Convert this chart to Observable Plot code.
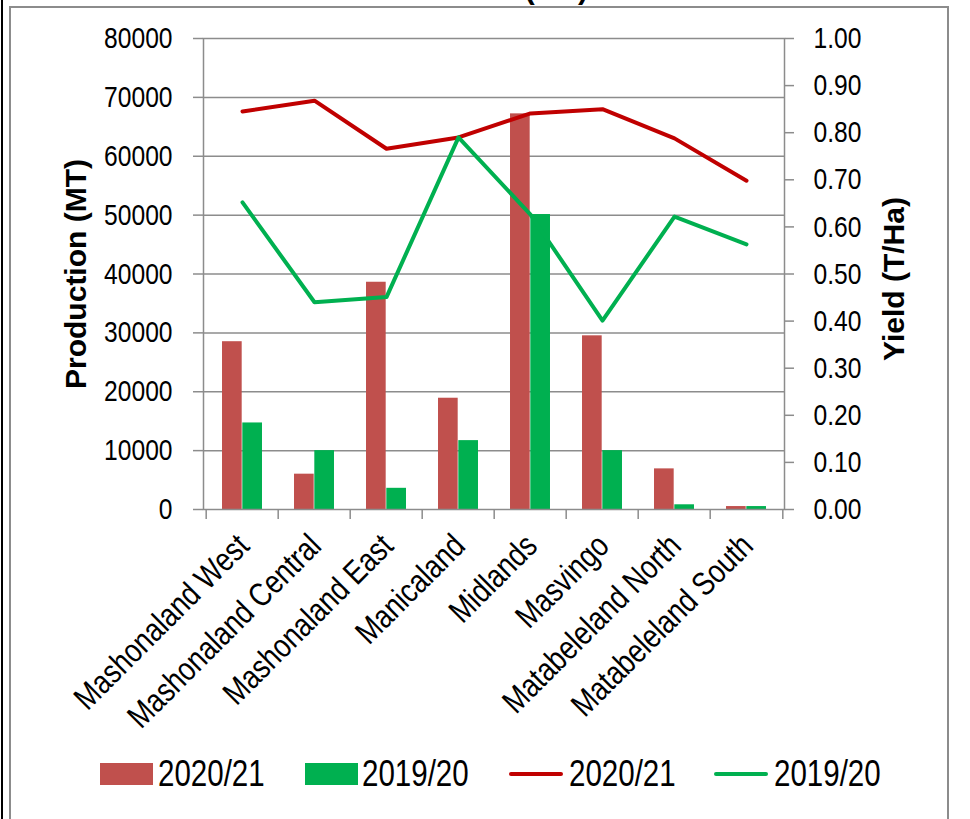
<!DOCTYPE html>
<html><head><meta charset="utf-8">
<script src="https://cdn.jsdelivr.net/npm/d3@7"></script>
<script src="https://cdn.jsdelivr.net/npm/@observablehq/plot@0.6"></script>
<style>
html,body{margin:0;padding:0;background:#fff;width:970px;height:819px;overflow:hidden;}
body{position:relative;}
#edge{position:absolute;left:1px;top:0;width:2px;height:819px;background:#000;}
#frame{position:absolute;left:9px;top:6px;width:936px;height:900px;border:2px solid #8c8c8c;pointer-events:none;z-index:3;}
#title{position:absolute;top:-26px;right:382px;font:bold 30px "Liberation Sans",Arial,sans-serif;line-height:30px;white-space:nowrap;color:#000;}
#chart{position:absolute;left:0;top:0;}
#legend{position:absolute;left:0;top:752px;width:970px;height:44px;font-family:"Liberation Sans",Arial,sans-serif;font-size:36px;color:#000;}
.key{position:absolute;}
.sw{top:11px;width:53px;height:22px;}
.ln{top:20px;width:54px;height:4px;border-radius:2px;}
.lab{position:absolute;top:0;line-height:44px;white-space:nowrap;transform:scaleX(0.82);transform-origin:0 50%;}
</style>
</head><body>
<div id="edge"></div>
<div id="title">Production (MT)</div>
<div id="chart"></div>
<div id="legend"></div>
<div id="frame"></div>
<script>
const regions = ["Mashonaland West","Mashonaland Central","Mashonaland East","Manicaland","Midlands","Masvingo","Matabeleland North","Matabeleland South"];
const seasons = ["2020/21","2019/20"];
const prod2021 = [28500, 6000, 38600, 18900, 67200, 29500, 6900, 500];
const prod1920 = [14700, 10000, 3600, 11700, 50100, 10000, 800, 500];
const yield2021 = [0.845, 0.868, 0.766, 0.790, 0.841, 0.850, 0.788, 0.698];
const yield1920 = [0.652, 0.440, 0.451, 0.790, 0.626, 0.401, 0.622, 0.563];
const prodTicks = [0,10000,20000,30000,40000,50000,60000,70000,80000];
const yieldTicks = [0,0.1,0.2,0.3,0.4,0.5,0.6,0.7,0.8,0.9,1.0];
const yTitle = "Production (MT)", y2Title = "Yield (T/Ha)";

const barColors = ["#C0504D","#00B050"];
const lineColors = ["#C00000","#00B050"];
const FONT = '"Liberation Sans",Arial,sans-serif';
const NARROW_K = 0.82;

const W=970, H=740, mL=203, mR=186, mT=38, mB=231;
const YMAX = prodTicks[prodTicks.length-1];
const bw = (W-mL-mR)/regions.length;
const barW = 20.3, outer = bw/2 - barW;
const rows = regions.map((r,i)=>({region:r, p21:prod2021[i], p20:prod1920[i], y21:yield2021[i]*YMAX, y20:yield1920[i]*YMAX}));
const grid = "#8c8c8c";

const chart = Plot.plot({
  width:W, height:H, marginLeft:mL, marginRight:mR, marginTop:mT, marginBottom:mB,
  style:{background:"transparent", overflow:"visible", fontFamily:FONT},
  x:{type:"band", domain:regions, padding:0, axis:null},
  y:{domain:[0,YMAX], axis:null},
  marks:[
    Plot.ruleY(prodTicks.slice(1,-1), {stroke:grid, strokeWidth:1.5}),
    Plot.barY(rows, {x:"region", y:"p21", fill:barColors[0], insetLeft:outer, insetRight:bw/2}),
    Plot.barY(rows, {x:"region", y:"p20", fill:barColors[1], insetLeft:bw/2, insetRight:outer}),
    Plot.frame({stroke:grid, strokeWidth:1.5}),
    Plot.axisY({ticks:prodTicks, tickSize:10, tickPadding:21, tickFormat:d=>String(d), stroke:grid, strokeWidth:1.5, fill:"#000", fontSize:30, fontFamily:FONT}),
    Plot.axisY({anchor:"right", ticks:yieldTicks.map(v=>v*YMAX), tickSize:9, tickPadding:20, tickFormat:d=>(d/YMAX).toFixed(2), stroke:grid, strokeWidth:1.5, fill:"#000", fontSize:30, fontFamily:FONT}),
    Plot.ruleX(regions, {x:d=>d, y1:0, y2:0, insetBottom:-10, dx:-bw/2, stroke:grid, strokeWidth:1.5}),
    Plot.ruleX(regions.slice(-1), {x:d=>d, y1:0, y2:0, insetBottom:-10, dx:bw/2, stroke:grid, strokeWidth:1.5}),
    Plot.text(regions, {x:d=>d, frameAnchor:"bottom", text:d=>d, rotate:-45, textAnchor:"end", lineAnchor:"middle", dx:1, dy:31, fontSize:33, fontFamily:FONT, fill:"#000"}),
    Plot.lineY(rows, {x:"region", y:"y21", stroke:lineColors[0], strokeWidth:4}),
    Plot.lineY(rows, {x:"region", y:"y20", stroke:lineColors[1], strokeWidth:4}),
    Plot.text([yTitle], {frameAnchor:"left", textAnchor:"middle", dx:-127, rotate:-90, fontSize:30, fontWeight:"bold", fontFamily:FONT, fill:"#000"}),
    Plot.text([y2Title], {frameAnchor:"right", textAnchor:"middle", dx:110, dy:5, rotate:-90, fontSize:30, fontWeight:"bold", fontFamily:FONT, fill:"#000"})
  ]
});
document.getElementById("chart").appendChild(chart);

// Arial Narrow look: condense the non-bold texts
chart.querySelectorAll("text").forEach(t => {
  const s = t.textContent;
  if (s === yTitle || s === y2Title) return;
  const len = t.getComputedTextLength();
  if (len > 0) {
    t.setAttribute("textLength", (len*NARROW_K).toFixed(2));
    t.setAttribute("lengthAdjust", "spacingAndGlyphs");
  }
});

const legend = document.getElementById("legend");
const keyLeft = [100, 305, 509, 714];
const labLeft = [158, 362, 569, 774];
const items = [
  ...seasons.map((s,i)=>({label:s, cls:"sw", color:barColors[i]})),
  ...seasons.map((s,i)=>({label:s, cls:"ln", color:lineColors[i]}))
];
items.forEach((it, i) => {
  const k = document.createElement("div"); k.className="key "+it.cls; k.style.background=it.color; k.style.left=keyLeft[i]+"px";
  const t = document.createElement("div"); t.className="lab"; t.textContent=it.label; t.style.left=labLeft[i]+"px";
  legend.appendChild(k); legend.appendChild(t);
});
</script>
</body></html>
